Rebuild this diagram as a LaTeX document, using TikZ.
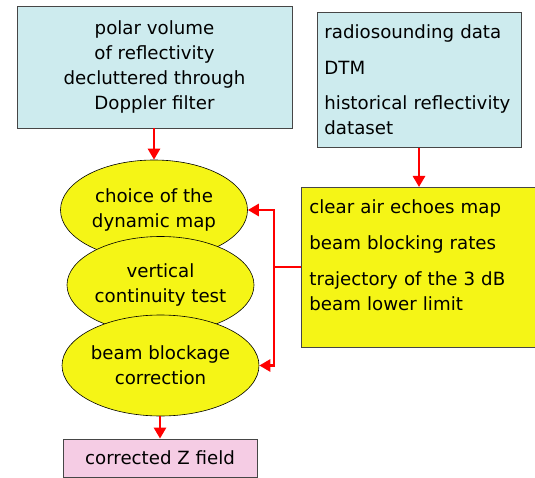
\documentclass[tikz,border=0pt]{standalone}
\usepackage{fontspec}
\setmainfont{DejaVu Sans}
\usepackage{xcolor}
\usetikzlibrary{shapes.geometric,arrows.meta,positioning}

\definecolor{inputcyan}{RGB}{205,235,238}
\definecolor{stepyellow}{RGB}{245,245,22}
\definecolor{outpink}{RGB}{245,204,228}
\definecolor{edgegray}{RGB}{70,70,70}

\begin{document}
\begin{tikzpicture}[x=1pt, y=-1pt,
    % Styles for the boxes, the steps and the red arrows
    databox/.style={rectangle, draw=edgegray, line width=0.8pt, fill=inputcyan, inner sep=0pt},
    listbox/.style={rectangle, draw=edgegray, line width=0.8pt, text width=#1, align=left},
    stepellipse/.style={ellipse, draw=black, line width=0.6pt, fill=stepyellow, minimum width=187pt, minimum height=100pt, inner sep=0pt, align=center},
    resultbox/.style={rectangle, draw=edgegray, line width=0.8pt, fill=outpink, minimum width=194pt, minimum height=38pt, inner sep=0pt},
    line/.style={draw=red, line width=2.6pt, -{Triangle[length=11pt,width=12pt]}},
    font=\fontsize{18.2}{25.3}\selectfont]

    \useasboundingbox (0,0) rectangle (535,478);

    % Node: polar volume (input)
    \node [databox, minimum width=275pt, minimum height=122pt, align=center] (polar) at (154.5,67)
        {polar volume\\of reflectivity\\decluttered through\\Doppler filter};

    % Node: auxiliary data (input)
    \node [listbox=190pt, fill=inputcyan, inner xsep=7pt, inner ysep=0pt, minimum width=204pt, minimum height=135pt, anchor=north west] (auxdata) at (317,12)
        {radiosounding data\\[10pt]DTM\\[10pt]historical reflectivity\\dataset};

    % Node: derived maps (extends past the right edge)
    \begin{scope}
    \clip (0,0) rectangle (535,478);
    \node [listbox=226pt, fill=stepyellow, inner xsep=8pt, inner ysep=12pt, anchor=north west] (maps) at (301,187)
        {clear air echoes map\\[10.7pt]beam blocking rates\\[10.7pt]trajectory of the 3 dB\\beam lower limit\\\mbox{}};
    \end{scope}

    % Nodes: processing steps (drawn in order, each over the last)
    \node [stepellipse] (choice) at (154,210) {choice of the\\dynamic map};
    \node [stepellipse, minimum height=97pt] (vertical) at (160.5,285) {vertical\\continuity test};
    \node [stepellipse, minimum height=101pt] (blockage) at (160.5,365.5) {beam blockage\\correction};

    % Node: corrected Z field (output)
    \node [resultbox] (zfield) at (160,458) {corrected Z field};

    % Junction of the feedback lines
    \coordinate (split) at (274,267);

    % Edges (Flow)
    \path [line] (polar.south -| choice) -- (choice.north);
    \path [line] (auxdata.south -| 419,0) -- (maps.north -| 419,0);
    \path [draw=red, line width=2.6pt] (maps.west |- split) -- (split);
    \path [line] (split) |- (choice.east);
    \path [line] (split) |- (blockage.east);
    \path [line] (blockage.south -| zfield) -- (zfield.north);

\end{tikzpicture}
\end{document}
